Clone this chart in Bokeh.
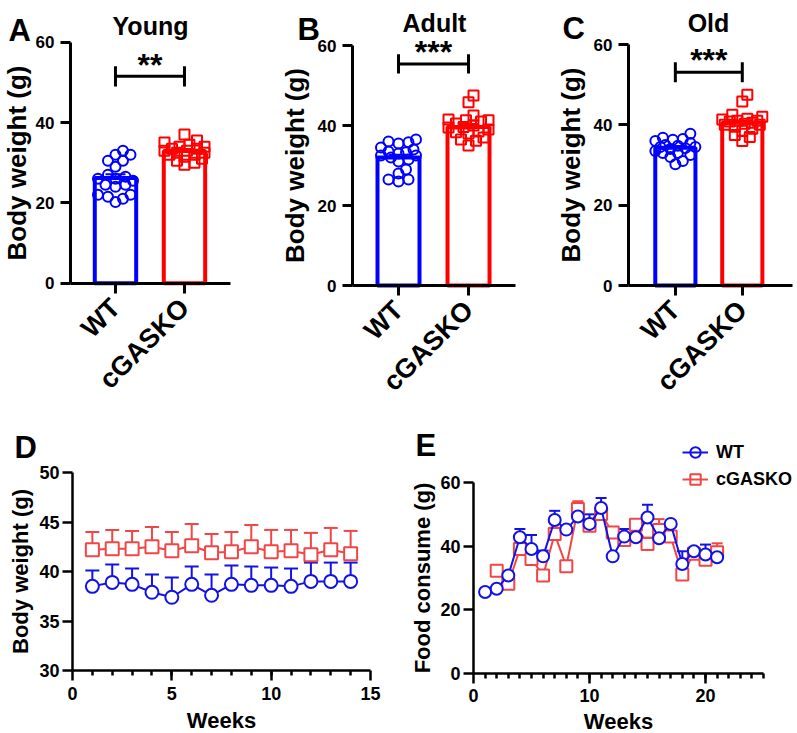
import math
import numpy as np
from bokeh.plotting import figure
from bokeh.layouts import row, column
from bokeh.models import (Range1d, FixedTicker, Label, Whisker, TeeHead, Legend,
                          LegendItem, ColumnDataSource)
from bokeh.core.properties import value
from bokeh.embed import file_html
from bokeh.resources import INLINE

# ---------------- data ----------------
groups = ["WT", "cGASKO"]

young_wt = [33.0, 32.0, 32.0, 30.5, 30.5, 29.0, 27.0, 26.5, 26.0, 26.0, 25.5, 24.5, 24.5, 24.0, 22.0, 22.0, 21.5, 21.0, 20.2]
young_ko = [37.0, 35.5, 35.0, 34.5, 34.0, 34.0, 33.5, 33.5, 33.0, 33.0, 32.5, 32.5, 32.0, 32.0, 31.5, 31.0, 30.5, 30.0, 29.5]
young_mean = [26.2, 32.9]
young_sem = [0.9, 0.5]

adult_wt = [36.5, 36.0, 35.8, 35.5, 34.5, 34.0, 33.5, 33.3, 33.0, 32.5, 32.5, 32.0, 31.5, 31.0, 29.0, 28.0, 26.5, 26.5, 26.0]
adult_ko = [47.5, 45.8, 42.5, 41.5, 41.3, 41.3, 41.0, 40.5, 40.0, 39.6, 39.5, 39.0, 38.5, 38.3, 38.0, 37.0, 36.5, 36.2, 35.0]
adult_mean = [32.0, 39.6]
adult_sem = [0.7, 0.8]

old_wt = [37.8, 36.8, 36.5, 36.3, 36.0, 35.5, 35.0, 34.8, 34.5, 34.5, 34.2, 34.0, 33.5, 33.0, 33.0, 32.5, 32.0, 31.0, 30.2]
old_ko = [47.5, 45.8, 42.5, 42.0, 41.5, 41.3, 41.0, 41.0, 40.8, 40.5, 40.3, 40.0, 40.0, 39.5, 39.0, 38.5, 37.5, 37.0, 36.0]
old_mean = [34.3, 40.5]
old_sem = [0.45, 0.6]

sig_labels = ["**", "***", "***"]

weeks_d = [1, 2, 3, 4, 5, 6, 7, 8, 9, 10, 11, 12, 13, 14]
bw_wt = [38.5, 38.9, 38.7, 37.9, 37.4, 38.7, 37.6, 38.7, 38.6, 38.6, 38.5, 39.0, 39.0, 39.0]
bw_wt_err = [1.6, 1.8, 1.6, 1.8, 2.0, 1.8, 2.1, 1.9, 1.9, 1.8, 1.8, 1.9, 1.9, 1.9]
bw_ko = [42.2, 42.3, 42.3, 42.5, 42.1, 42.6, 41.9, 42.0, 42.5, 42.0, 42.1, 41.7, 42.2, 41.8]
bw_ko_err = [1.8, 1.9, 1.8, 2.0, 1.9, 2.2, 1.9, 2.0, 2.2, 2.2, 2.1, 2.2, 2.2, 2.3]

weeks_e_wt = [1, 2, 3, 4, 5, 6, 7, 8, 9, 10, 11, 12, 13, 14, 15, 16, 17, 18, 19, 20, 21]
food_wt = [25.6, 26.6, 30.8, 42.8, 39.1, 36.8, 48.2, 45.2, 49.3, 47.0, 52.0, 36.8, 43.0, 42.8, 49.0, 42.5, 47.0, 34.4, 38.4, 37.4, 36.5]
food_wt_err = [0.5, 0.8, 1.2, 2.6, 4.4, 1.8, 2.9, 1.0, 2.5, 3.0, 3.1, 0.8, 2.4, 2.5, 4.0, 2.5, 1.0, 4.0, 1.0, 3.1, 1.0]
weeks_e_ko = [2, 3, 4, 5, 6, 7, 8, 9, 10, 11, 12, 13, 14, 15, 16, 17, 18, 19, 20, 21]
food_ko = [32.3, 28.2, 39.1, 36.0, 30.8, 43.8, 33.7, 51.7, 46.4, 50.1, 44.3, 41.9, 46.7, 40.7, 45.1, 43.0, 31.1, 37.6, 35.7, 38.1]
food_ko_err = [1.0, 1.0, 1.5, 1.5, 1.5, 2.0, 1.0, 2.4, 1.5, 2.5, 1.5, 1.0, 1.5, 2.0, 3.4, 1.5, 1.5, 1.0, 1.5, 2.8]

# ---------------- style ----------------
FONT = "Liberation Sans"
BLUE = "#0000ff"
RED = "#ff0000"
BLUE2 = "#1212e6"
RED2 = "#f24646"


def frame_fig(W, H, xpx, xdat, ypx, ydat):
    """Figure whose frame fills the whole canvas; axes are pinned with fixed_location."""
    sx = (xpx[1] - xpx[0]) / (xdat[1] - xdat[0])
    x0 = xdat[0] - xpx[0] / sx
    sy = (ypx[0] - ypx[1]) / (ydat[1] - ydat[0])
    y0 = ydat[0] - (H - ypx[0]) / sy
    p = figure(width=W, height=H, x_range=Range1d(x0, x0 + W / sx),
               y_range=Range1d(y0, y0 + H / sy), min_border=0,
               output_backend="svg", toolbar_location=None)
    p.xaxis.fixed_location = ydat[0]
    p.xaxis.bounds = (xdat[0], xdat[1])
    p.yaxis.fixed_location = xdat[0]
    p.yaxis.bounds = (ydat[0], ydat[1])
    p.xgrid.visible = False
    p.ygrid.visible = False
    p.outline_line_color = None
    return p, sx, sy


def style_axes(p, ylabel, xlabel=None, lw=3, tick_fs="17px", label_fs="26px"):
    for ax in (p.xaxis[0], p.yaxis[0]):
        ax.axis_line_width = lw
        ax.major_tick_line_width = lw
        ax.minor_tick_line_width = lw
        ax.major_tick_out = 10
        ax.major_tick_in = 0
        ax.minor_tick_out = 5
        ax.minor_tick_in = 0
        ax.major_label_text_font = FONT
        ax.major_label_text_font_style = "bold"
        ax.major_label_text_font_size = tick_fs
        ax.major_label_text_color = "black"
        ax.axis_label_text_font = FONT
        ax.axis_label_text_font_style = "bold"
        ax.axis_label_text_font_size = label_fs
        ax.axis_label_text_color = "black"
    p.yaxis.axis_label = ylabel
    if xlabel:
        p.xaxis.axis_label = xlabel


def add_text(p, H, x, baseline_from_top, text, size, align="left"):
    p.add_layout(Label(x=x, y=H - baseline_from_top, x_units="screen", y_units="screen",
                       text=text, text_font=FONT, text_font_style="bold", text_color="black",
                       text_font_size=size, text_align=align, text_baseline="alphabetic"))


def swarm(vals, ppu_y, ppu_x, diam, maxw):
    order = np.argsort(np.asarray(vals), kind="stable")
    placed = []
    offs = [0.0] * len(vals)
    cands = [0.0]
    for k in range(1, 10):
        cands += [k * 2.5, -k * 2.5]
    cands = [c for c in cands if abs(c) <= maxw]
    for i in order:
        y = vals[i] * ppu_y
        best = None
        for c in cands:
            if all((c - px) ** 2 + (y - py) ** 2 >= diam ** 2 for px, py in placed):
                best = c
                break
        if best is None:
            best = max(cands, key=lambda c: min((c - px) ** 2 + (y - py) ** 2 for px, py in placed))
        placed.append((best, y))
        offs[i] = best / ppu_x
    return offs


def bar_panel(W, letter, title, wt, ko, means, sems, sig, bracket_y, half, star_y,
              xpx, xlim, ypx, letter_pos, title_pos, ylabel_standoff):
    H = 400
    p, sx, sy = frame_fig(W, H, xpx, xlim, ypx, (0, 60))
    style_axes(p, "Body weight (g)")
    p.yaxis.ticker = FixedTicker(ticks=[0, 20, 40, 60], minor_ticks=[])
    p.xaxis.ticker = FixedTicker(ticks=[1, 2], minor_ticks=[])
    p.xaxis.major_label_overrides = {1: groups[0], 2: groups[1]}
    p.xaxis.major_label_orientation = math.pi / 4
    p.xaxis.major_label_text_font_size = "27px"
    p.xaxis.major_label_standoff = 10
    p.yaxis.axis_label_standoff = ylabel_standoff
    p.yaxis.major_label_standoff = 6

    p.vbar(x=[1, 2], top=means, width=0.6, bottom=0, fill_color="white",
           line_color=[BLUE, RED], line_width=4)
    ow = swarm(wt, sy, sx, 8.0, 20)
    ok = swarm(ko, sy, sx, 8.0, 20)
    p.scatter([1 + o for o in ow], wt, marker="circle", size=10, fill_alpha=0,
              line_color=BLUE, line_width=2)
    p.scatter([2 + o for o in ok], ko, marker="square", size=10, fill_alpha=0,
              line_color=RED, line_width=2)
    src = ColumnDataSource(dict(x=[1, 2], up=[m + s for m, s in zip(means, sems)],
                                lo=[m - s for m, s in zip(means, sems)], c=[BLUE, RED]))
    p.add_layout(Whisker(source=src, base="x", upper="up", lower="lo", line_color="c",
                         line_width=2, upper_head=TeeHead(size=20, line_color="c", line_width=2),
                         lower_head=TeeHead(size=20, line_color="c", line_width=2)))
    p.segment(x0=[1, 1, 2], y0=[bracket_y, bracket_y - half, bracket_y - half],
              x1=[2, 1, 2], y1=[bracket_y, bracket_y + half, bracket_y + half],
              line_color="black", line_width=3)
    p.text(x=[1.5], y=[star_y], text=[sig], text_align="center", text_baseline="middle",
           text_font=value(FONT), text_font_style="bold", text_font_size="32px",
           text_color="black")
    add_text(p, H, letter_pos[0], letter_pos[1], letter, "31px")
    add_text(p, H, title_pos[0], title_pos[1], title, "25px", align="center")
    return p


pA = bar_panel(262, "A", "Young", young_wt, young_ko, young_mean, young_sem, sig_labels[0],
               51.5, 2.5, 54.4, (70, 230), (0.348, 2.667), (282.7, 41.7), (8, 30), (150, 25), 1)
pB = bar_panel(264, "B", "Adult", adult_wt, adult_ko, adult_mean, adult_sem, sig_labels[1],
               55.4, 2.4, 58.5, (90, 253), (0.343, 2.671), (285, 45), (35, 29), (172, 22), 5)
pC = bar_panel(271, "C", "Old", old_wt, old_ko, old_mean, old_sem, sig_labels[2],
               53.1, 2.5, 56.1, (102, 266), (0.30, 2.75), (285, 44), (36, 28), (182, 22), 5)


def series(p, x, y, err, color, marker, size, cap):
    src = ColumnDataSource(dict(x=x, y=y, up=[a + b for a, b in zip(y, err)]))
    ln = p.line("x", "y", source=src, line_color=color, line_width=2)
    p.add_layout(Whisker(source=src, base="x", upper="up", lower="y", line_color=color,
                         line_width=2, upper_head=TeeHead(size=cap, line_color=color, line_width=2),
                         lower_head=None))
    sc = p.scatter("x", "y", source=src, marker=marker, size=size, fill_color="white",
                   line_color=color, line_width=2)
    return ln, sc


# ---------------- panel D ----------------
HD = 333
pD, _, _ = frame_fig(400, HD, (72, 370), (0, 15), (270, 72), (30, 50))
style_axes(pD, "Body weight (g)", "Weeks", lw=2.5, tick_fs="18px", label_fs="22px")
pD.xaxis.ticker = FixedTicker(ticks=[0, 5, 10, 15], minor_ticks=weeks_d)
pD.yaxis.ticker = FixedTicker(ticks=[30, 35, 40, 45, 50], minor_ticks=[])
pD.yaxis.major_label_standoff = 3
pD.yaxis.axis_label_standoff = 3
pD.xaxis.major_label_standoff = 6
pD.xaxis.axis_label_standoff = 5
series(pD, weeks_d, bw_ko, bw_ko_err, RED2, "square", 13, 14)
series(pD, weeks_d, bw_wt, bw_wt_err, BLUE2, "circle", 13, 14)
add_text(pD, HD, 14, 47, "D", "31px")

# ---------------- panel E ----------------
pE, _, _ = frame_fig(397, HD, (73, 363), (0, 25), (273, 82), (0, 60))
style_axes(pE, "Food consume (g)", "Weeks", lw=2.5, tick_fs="18px", label_fs="22px")
pE.xaxis.ticker = FixedTicker(ticks=[0, 10, 20], minor_ticks=weeks_e_wt + [22, 23, 24, 25])
pE.yaxis.ticker = FixedTicker(ticks=[0, 20, 40, 60], minor_ticks=[])
pE.yaxis.major_label_standoff = 3
pE.yaxis.axis_label_standoff = 2
pE.xaxis.major_label_standoff = 5
pE.xaxis.axis_label_standoff = 4
ko_ln, ko_sc = series(pE, weeks_e_ko, food_ko, food_ko_err, RED2, "square", 12, 11)
wt_ln, wt_sc = series(pE, weeks_e_wt, food_wt, food_wt_err, BLUE2, "circle", 12, 11)
legend = Legend(items=[LegendItem(label=groups[0], renderers=[wt_sc, wt_ln]),
                       LegendItem(label=groups[1], renderers=[ko_sc, ko_ln])],
                location=(282, HD - 92), padding=0, margin=0, spacing=1,
                glyph_width=26, glyph_height=26, label_standoff=8, label_height=26,
                label_text_font=FONT, label_text_font_style="bold", label_text_font_size="18px",
                label_text_color="black", border_line_alpha=0, background_fill_alpha=0)
pE.add_layout(legend)
add_text(pE, HD, 15, 45, "E", "31px")

layout = column(row(pA, pB, pC, spacing=0), row(pD, pE, spacing=0), spacing=0)
open("out.html", "w").write(file_html(layout, INLINE))
